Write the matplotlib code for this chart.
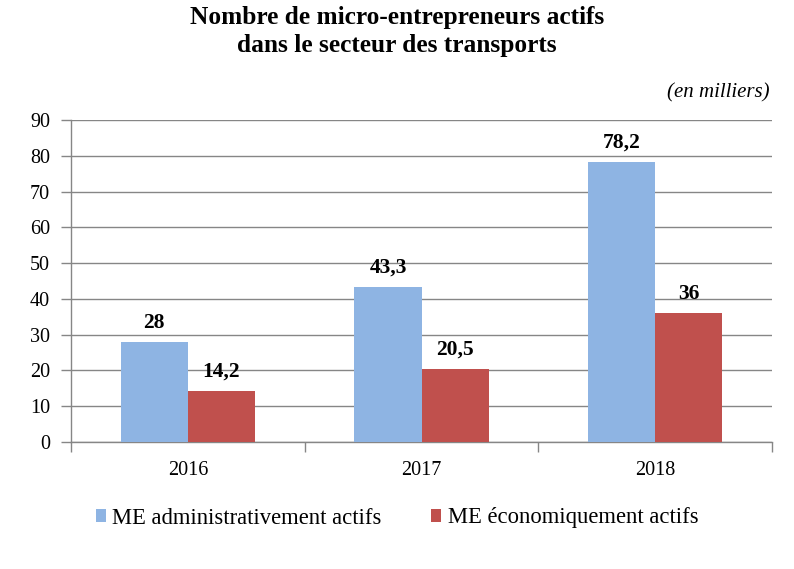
import matplotlib
matplotlib.use("Agg")
import matplotlib.pyplot as plt
import numpy as np

years = ["2016", "2017", "2018"]
admin = [28, 43.3, 78.2]
eco = [14.2, 20.5, 36]
series_names = ["ME administrativement actifs", "ME économiquement actifs"]
colors = ["#8EB4E3", "#C0504D"]
yticks = [0, 10, 20, 30, 40, 50, 60, 70, 80, 90]

plt.rcParams['font.family'] = ['Liberation Serif', 'DejaVu Serif']

fig = plt.figure(figsize=(7.94, 5.69), dpi=100)
ax = fig.add_axes([71/794, 1-442/569, (772-71)/794, (442-120)/569])

x = np.arange(len(years))
w = 0.287
b1 = ax.bar(x - w/2, admin, w, color=colors[0], label=series_names[0], zorder=3)
b2 = ax.bar(x + w/2, eco, w, color=colors[1], label=series_names[1], zorder=3)

def fmt(v):
    s = ("%g" % v).replace(".", ",")
    return s

for bars, vals in ((b1, admin), (b2, eco)):
    for r, v in zip(bars, vals):
        ax.text(r.get_x() + r.get_width()/2, v + 2.6, fmt(v), ha="center", va="bottom",
                fontsize=15.5, fontweight="bold")

ax.set_xlim(-0.5, 2.5)
ax.set_ylim(0, 90)
ax.set_yticks(yticks)
ax.set_yticklabels([str(t) for t in yticks], fontsize=14.5)
ax.yaxis.grid(True, color="#868686", linewidth=1, zorder=0)
ax.set_xticks(x)
ax.set_xticklabels(years, fontsize=14.5)
ax.tick_params(axis="x", length=0, pad=14)
ax.set_xticks([0.5, 1.5, 2.5, -0.5], minor=True)
ax.tick_params(axis="x", which="minor", length=7, color="#868686", width=1)
ax.tick_params(axis="y", length=7, color="#868686", width=1, pad=8)
for s in ("top", "right"):
    ax.spines[s].set_visible(False)
for s in ("left", "bottom"):
    ax.spines[s].set_color("#868686")
    ax.spines[s].set_linewidth(1)

fig.text(0.5, 1-31.5/569, "Nombre de micro-entrepreneurs actifs\ndans le secteur des transports",
         ha="center", va="center", fontsize=18.3, fontweight="bold", linespacing=1.25)
fig.text(770/794, 1-93/569, "(en milliers)", ha="right", va="center", fontsize=15, style="italic")

leg = fig.legend(handles=[b1, b2], labels=series_names, loc="center", bbox_to_anchor=(0.5, 1-518/569),
                 ncol=2, frameon=False, fontsize=16.3, handlelength=0.45, handleheight=0.45,
                 handletextpad=0.28, columnspacing=2.2)

fig.savefig("out.png", dpi=100)
